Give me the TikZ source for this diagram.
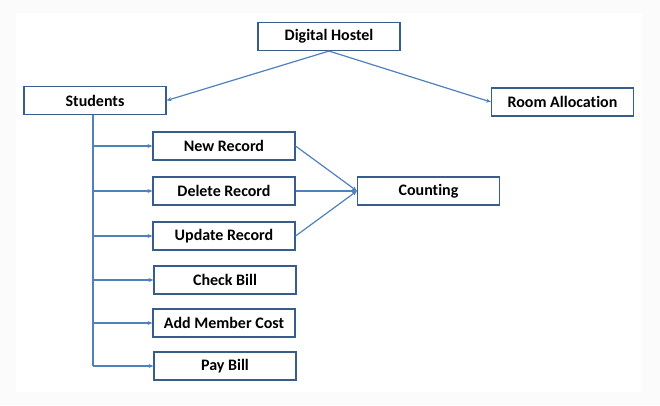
\documentclass[tikz,border=0pt]{standalone}
\usepackage{fontspec}
\setmainfont[Ligatures={NoCommon}]{Carlito}
\usetikzlibrary{arrows.meta}
\definecolor{boxline}{HTML}{385D8A}
\definecolor{conn}{HTML}{4F81BD}
\begin{document}
\begin{tikzpicture}[x=1pt,y=-1pt,
  box/.style={draw=boxline,line width=1.1pt,fill=white,minimum width=142pt,minimum height=28pt,inner sep=0pt,font=\bfseries\fontsize{16}{18}\selectfont,text=black},
  link/.style={draw=conn,line width=1.2pt},
  arr/.style={link,-{Stealth[length=5pt,width=4pt]}}]
\fill[black!1.5] (0,0) rectangle (660,405);
\fill[white] (16,13) rectangle (642,392);
\useasboundingbox (0,0) rectangle (660,405);
\node[box] (dh) at (329,36.5) {Digital Hostel};
\node[box] (st) at (95,100.5) {Students};
\node[box] (ra) at (562.5,102) {Room Allocation};
\node[box] (nr) at (224,146) {New Record};
\node[box] (dr) at (224,191) {Delete Record};
\node[box] (co) at (428.5,191) {Counting};
\node[box] (ur) at (224,236) {Update Record};
\node[box] (cb) at (225,280) {Check Bill};
\node[box] (am) at (224,323) {Add Member Cost};
\node[box] (pb) at (225,366) {Pay Bill};
\coordinate (tb) at (93,366);
\draw[arr] (dh.south) -- (st.east);
\draw[arr] (dh.south) -- (ra.west);
\draw[link] (st.south -| tb) -- (tb);
\foreach \n in {nr,dr,ur,cb,am,pb}{
  \draw[arr] (tb |- \n.west) -- (\n.west);
}
\draw[arr] (nr.east) -- (co.west);
\draw[arr] (dr.east) -- (co.west);
\draw[arr] (ur.east) -- (co.west);
\end{tikzpicture}
\end{document}
